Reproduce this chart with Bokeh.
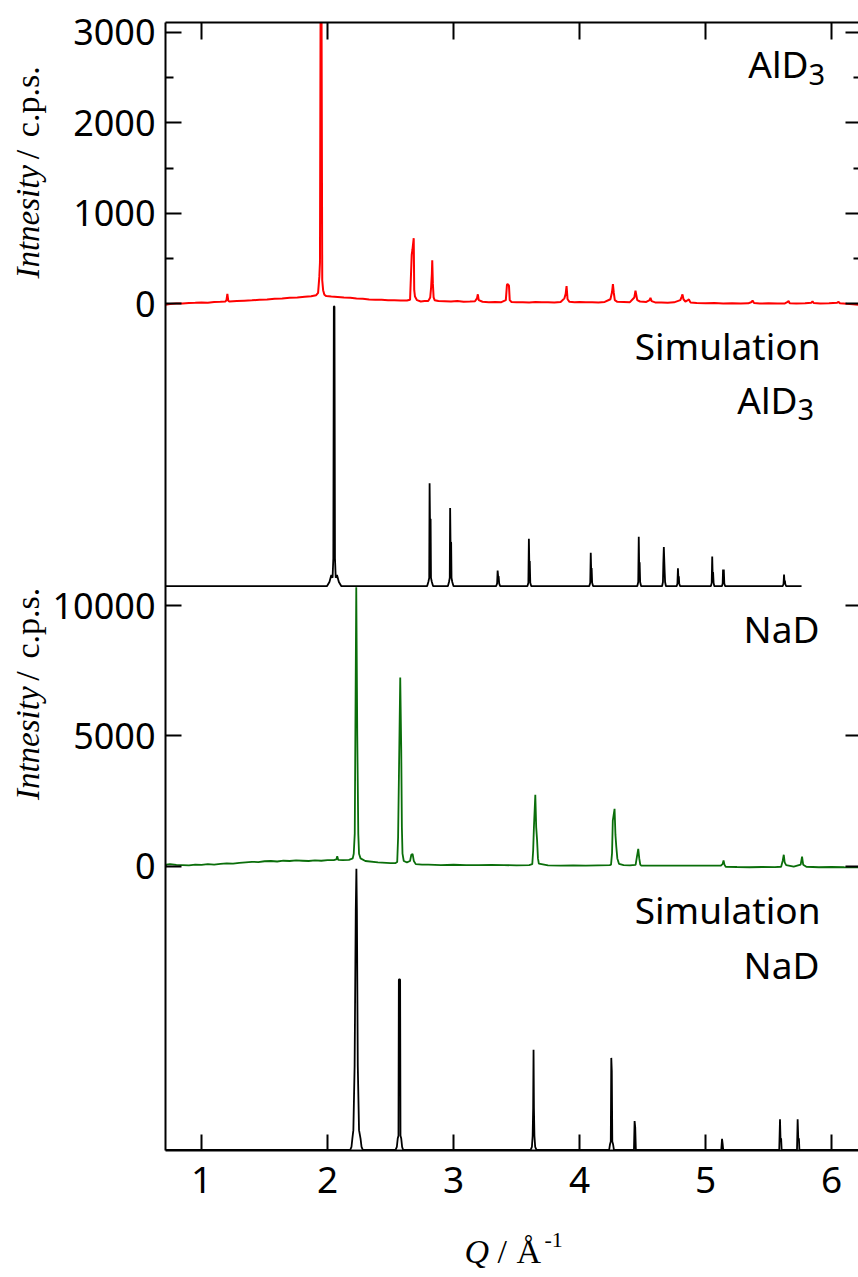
from bokeh.plotting import figure
from bokeh.models import Range1d, LinearAxis, FixedTicker, Label
from bokeh.layouts import column, row
from bokeh.embed import file_html
from bokeh.resources import INLINE

# ---------------- data ----------------
q_ticks = [1, 2, 3, 4, 5, 6]
alh_exp_ticks = [0, 1000, 2000, 3000]
alh_exp_minor = [500, 1500, 2500]
nah_exp_ticks = [0, 5000, 10000]

# AlD3 measured pattern (Q [1/A], intensity [c.p.s.])
alh_exp = [
    (0.714, -10), (0.75, -2), (0.80, 4), (0.85, 2), (0.90, 8), (0.95, 10), (1.00, 14), (1.05, 12),
    (1.10, 20), (1.15, 22), (1.19, 26), (1.198, 40), (1.205, 110), (1.212, 35), (1.22, 26), (1.28, 30),
    (1.34, 34), (1.40, 38), (1.46, 44), (1.52, 47), (1.58, 55), (1.64, 58), (1.70, 66), (1.76, 70),
    (1.82, 78), (1.87, 84), (1.91, 95), (1.925, 120), (1.935, 300), (1.940, 460), (1.945, 3400),
    (1.952, 3400), (1.958, 260), (1.965, 150), (1.975, 100), (1.99, 85), (2.03, 80), (2.08, 76),
    (2.13, 70), (2.18, 66), (2.23, 58), (2.28, 55), (2.33, 48), (2.38, 45), (2.43, 44), (2.48, 40),
    (2.53, 38), (2.58, 36), (2.63, 37), (2.655, 45), (2.668, 540), (2.674, 600), (2.684, 725),
    (2.688, 150), (2.694, 80), (2.71, 40), (2.74, 25), (2.77, 30), (2.80, 32), (2.815, 70),
    (2.822, 180), (2.828, 330), (2.831, 480), (2.836, 220), (2.842, 70), (2.85, 40), (2.88, 30),
    (2.93, 28), (2.98, 25), (3.03, 30), (3.08, 22), (3.13, 25), (3.17, 28), (3.186, 60), (3.193, 105),
    (3.20, 40), (3.23, 22), (3.28, 18), (3.33, 20), (3.38, 18), (3.415, 40), (3.424, 210), (3.430, 218),
    (3.440, 200), (3.446, 40), (3.46, 20), (3.50, 16), (3.55, 18), (3.60, 14), (3.65, 20), (3.70, 16),
    (3.75, 18), (3.80, 15), (3.85, 20), (3.88, 60), (3.890, 110), (3.897, 195), (3.905, 50), (3.92, 22),
    (3.96, 18), (4.00, 20), (4.05, 16), (4.10, 18), (4.15, 15), (4.20, 20), (4.245, 50), (4.258, 130),
    (4.265, 218), (4.272, 120), (4.28, 40), (4.30, 22), (4.35, 20), (4.40, 18), (4.435, 70), (4.444, 145),
    (4.450, 100), (4.458, 40), (4.48, 25), (4.53, 20), (4.556, 40), (4.563, 66), (4.572, 30), (4.60, 15),
    (4.65, 14), (4.70, 12), (4.75, 16), (4.80, 40), (4.811, 80), (4.817, 103), (4.825, 50), (4.84, 25),
    (4.86, 40), (4.868, 48), (4.88, 15), (4.93, 8), (5.00, 5), (5.07, 8), (5.14, 4), (5.21, 6), (5.28, 3),
    (5.34, 5), (5.365, 20), (5.373, 36), (5.385, 8), (5.43, 3), (5.50, 5), (5.57, 2), (5.63, 4),
    (5.652, 20), (5.659, 30), (5.668, 6), (5.72, 3), (5.79, 5), (5.84, 12), (5.849, 28), (5.858, 8),
    (5.91, 4), (5.98, 6), (6.045, 12), (6.056, 22), (6.066, 6), (6.12, 0), (6.17, -5), (6.214, -10),
]

# AlD3 simulated pattern (relative intensity)
alh_sim = [
    (0.714, 0), (1.995, 0), (2.015, 1.5), (2.030, 4), (2.040, 3), (2.046, 10), (2.050, 100), (2.055, 100),
    (2.059, 10), (2.065, 3), (2.075, 4), (2.090, 1.5), (2.110, 0),
    (2.790, 0), (2.800, 1.5), (2.807, 3), (2.810, 36.8), (2.813, 24), (2.818, 24), (2.821, 3), (2.828, 1.5), (2.838, 0),
    (2.955, 0), (2.964, 1.5), (2.970, 3), (2.973, 28), (2.976, 15.7), (2.981, 15.7), (2.984, 3), (2.990, 1.5), (3.000, 0),
    (3.338, 0), (3.346, 1.0), (3.350, 5.6), (3.354, 3.5), (3.358, 3.5), (3.362, 1), (3.370, 0),
    (3.586, 0), (3.594, 1.2), (3.598, 17), (3.601, 9), (3.605, 9), (3.609, 1.2), (3.617, 0),
    (4.077, 0), (4.085, 1.2), (4.089, 12), (4.092, 6.5), (4.096, 6.5), (4.100, 1.2), (4.108, 0),
    (4.458, 0), (4.466, 1.5), (4.470, 17.7), (4.473, 8.5), (4.477, 8.5), (4.481, 1.5), (4.489, 0),
    (4.655, 0), (4.662, 1.5), (4.665, 8), (4.669, 14), (4.672, 10), (4.675, 6), (4.679, 1.5), (4.686, 0),
    (4.771, 0), (4.777, 1), (4.781, 6.4), (4.784, 3.5), (4.788, 3.5), (4.791, 1), (4.798, 0),
    (5.042, 0), (5.049, 1.2), (5.053, 10.6), (5.056, 5), (5.060, 5), (5.064, 1.2), (5.070, 0),
    (5.130, 0), (5.136, 1), (5.139, 6), (5.142, 3), (5.145, 6), (5.149, 1), (5.156, 0),
    (5.612, 0), (5.619, 0.8), (5.623, 4.2), (5.626, 2), (5.630, 2), (5.633, 0.8), (5.640, 0),
    (5.762, 0),
]

# NaD measured pattern (Q [1/A], intensity [c.p.s.])
nah_exp = [
    (0.714, -30), (0.72, 60), (0.75, 80), (0.80, 50), (0.85, 40), (0.90, 30), (0.95, 60), (1.00, 50),
    (1.05, 80), (1.10, 60), (1.15, 90), (1.20, 110), (1.25, 100), (1.30, 130), (1.35, 150), (1.40, 170),
    (1.45, 160), (1.50, 190), (1.55, 200), (1.60, 180), (1.65, 210), (1.70, 200), (1.75, 220), (1.80, 210),
    (1.85, 200), (1.90, 220), (1.95, 210), (2.00, 230), (2.05, 230), (2.07, 260), (2.077, 380),
    (2.085, 240), (2.12, 230), (2.17, 240), (2.200, 300), (2.208, 480), (2.216, 1250), (2.228, 10700),
    (2.236, 5000), (2.244, 1250), (2.250, 480), (2.262, 300), (2.30, 200), (2.40, 150), (2.50, 120),
    (2.54, 120), (2.553, 160), (2.560, 1100), (2.577, 7240), (2.585, 4450), (2.590, 1500), (2.595, 480),
    (2.605, 200), (2.63, 150), (2.655, 200), (2.665, 440), (2.675, 470), (2.685, 200), (2.70, 80),
    (2.75, 60), (2.80, 60), (2.90, 40), (3.00, 55), (3.10, 45), (3.20, 40), (3.30, 50), (3.40, 40),
    (3.50, 35), (3.60, 45), (3.625, 80), (3.632, 600), (3.638, 1500), (3.649, 2740), (3.656, 1500),
    (3.663, 1000), (3.670, 300), (3.677, 100), (3.75, 30), (3.85, 20), (3.95, 30), (4.05, 20), (4.15, 30),
    (4.24, 40), (4.250, 60), (4.258, 500), (4.264, 1750), (4.278, 2200), (4.285, 1200), (4.292, 730),
    (4.300, 300), (4.313, 90), (4.35, 40), (4.40, 30), (4.445, 50), (4.455, 350), (4.466, 666),
    (4.474, 300), (4.482, 60), (4.49, 20), (5.12, 20), (5.135, 80), (5.143, 218), (5.150, 60),
    (5.16, -20), (5.25, -30), (5.35, -40), (5.45, -30), (5.55, -35), (5.60, -20), (5.612, 200),
    (5.621, 440), (5.628, 150), (5.640, 40), (5.70, -20), (5.755, 60), (5.766, 370), (5.775, 60),
    (5.80, -20), (5.90, -40), (6.00, -30), (6.10, -40), (6.214, -45),
]

# NaD simulated pattern (relative intensity)
nah_sim = [
    (0.714, 0), (2.180, 0), (2.190, 1), (2.197, 4), (2.205, 7), (2.215, 30), (2.224, 85), (2.229, 100),
    (2.233, 85), (2.240, 30), (2.250, 7), (2.262, 4), (2.270, 1), (2.280, 0),
    (2.540, 0), (2.550, 1), (2.557, 4), (2.563, 5), (2.566, 60.6), (2.576, 60.6), (2.579, 5), (2.585, 4),
    (2.592, 1), (2.600, 0),
    (3.612, 0), (3.622, 1), (3.628, 5), (3.632, 15), (3.635, 35.6), (3.638, 15), (3.642, 5), (3.648, 1), (3.658, 0),
    (4.235, 0), (4.242, 2), (4.248, 3), (4.252, 32.7), (4.256, 28), (4.260, 3), (4.266, 2), (4.273, 0),
    (4.432, 0), (4.437, 10.2), (4.442, 8), (4.447, 0),
    (5.125, 0), (5.131, 3.9), (5.136, 2), (5.140, 0),
    (5.585, 0), (5.591, 10.9), (5.595, 4), (5.600, 4), (5.604, 0),
    (5.726, 0), (5.731, 10.9), (5.736, 4), (5.741, 4), (5.745, 0),
    (6.214, 0),
]

# ---------------- layout ----------------
PAGE_W, PAGE_H = 858, 1277
STRIP_W = 47            # left strip holding the rotated y titles
MAIN_H = 1220           # main figure height (frame 22..1150 + tick labels)
FRAME_LEFT, FRAME_TOP, FRAME_BOTTOM = 165, 22, 1150

Q_MIN, Q_MAX = 0.714, 6.214
limits = {
    "alh_exp": (-8, 3110),
    "alh_sim": (-0.1, 100.7),
    "nah_exp": (-88, 10730),
    "nah_sim": (-0.25, 100.1),
}
order = ["nah_sim", "nah_exp", "alh_sim", "alh_exp"]  # bottom -> top
N = len(order)


def bare_fig(w, h, xr, yr):
    f = figure(width=w, height=h, x_range=xr, y_range=yr, output_backend="svg",
               toolbar_location=None, x_axis_location=None, y_axis_location=None,
               min_border_left=0, min_border_right=0, min_border_top=0, min_border_bottom=0)
    f.outline_line_color = None
    f.grid.visible = False
    f.background_fill_color = "white"
    f.border_fill_color = "white"
    return f


p = figure(width=PAGE_W - STRIP_W, height=MAIN_H, x_range=Range1d(Q_MIN, Q_MAX), y_range=Range1d(0, N),
           output_backend="svg", toolbar_location=None,
           x_axis_location=None, y_axis_location=None,
           min_border_left=FRAME_LEFT - STRIP_W, min_border_right=0,
           min_border_top=FRAME_TOP, min_border_bottom=MAIN_H - FRAME_BOTTOM)
p.outline_line_color = None
p.grid.visible = False
p.background_fill_color = "white"
p.border_fill_color = "white"

extra = {}
for j, name in enumerate(order):
    lo, hi = limits[name]
    span = hi - lo
    extra[name] = Range1d(lo - j * span, hi + (N - 1 - j) * span)
p.extra_y_ranges = extra


def pos(name, v):
    j = order.index(name)
    lo, hi = limits[name]
    return round(j + (v - lo) / (hi - lo), 6)


major = [pos("alh_exp", t) for t in alh_exp_ticks] + [pos("nah_exp", t) for t in nah_exp_ticks]
minor = [pos("alh_exp", t) for t in alh_exp_minor]
overrides = {}
for t in alh_exp_ticks:
    overrides[pos("alh_exp", t)] = str(t)
for t in nah_exp_ticks:
    overrides[pos("nah_exp", t)] = str(t)

TICK_FONT = "Noto Sans"
TICK_SIZE = "36px"

left = LinearAxis(ticker=FixedTicker(ticks=major, minor_ticks=minor), major_label_overrides=overrides,
                  axis_line_width=2, axis_line_color="black",
                  major_tick_in=16, major_tick_out=0, minor_tick_in=8, minor_tick_out=0,
                  major_tick_line_width=2, minor_tick_line_width=2,
                  major_label_standoff=10, major_label_text_font=TICK_FONT,
                  major_label_text_font_size=TICK_SIZE, major_label_text_color="black")
p.add_layout(left, "left")

right = LinearAxis(ticker=FixedTicker(ticks=major, minor_ticks=minor), axis_line_color=None,
                   major_tick_in=13, major_tick_out=0, minor_tick_in=5, minor_tick_out=0,
                   major_tick_line_width=2, minor_tick_line_width=2,
                   major_label_text_font_size="0px", major_label_text_color=None, major_label_standoff=0)
p.add_layout(right, "right")

top = LinearAxis(ticker=FixedTicker(ticks=q_ticks, minor_ticks=[]), axis_line_width=2,
                 major_tick_in=17, major_tick_out=0, major_tick_line_width=2,
                 major_label_text_font_size="0px", major_label_text_color=None, major_label_standoff=0)
p.add_layout(top, "above")

bottom = LinearAxis(ticker=FixedTicker(ticks=q_ticks, minor_ticks=[]), axis_line_width=2,
                    major_tick_in=16, major_tick_out=0, major_tick_line_width=2,
                    major_label_standoff=16, major_label_text_font=TICK_FONT,
                    major_label_text_font_size="37px", major_label_text_color="black")
p.add_layout(bottom, "below")

series = [
    (alh_exp, "alh_exp", "#ff0000", 2.0),
    (alh_sim, "alh_sim", "black", 1.8),
    (nah_exp, "nah_exp", "#0a6e0a", 1.8),
    (nah_sim, "nah_sim", "black", 1.8),
]
for pts, name, color, lw in series:
    xs = [a for a, b in pts]
    ys = [b for a, b in pts]
    p.line(xs, ys, y_range_name=name, line_color=color, line_width=lw)

# ---------------- in-panel texts (screen units relative to the frame; y = text centre) ----------------


def add_text(text, page_x, page_y, align="right", size="37px"):
    p.add_layout(Label(x=page_x - FRAME_LEFT, y=FRAME_BOTTOM - page_y, x_units="screen", y_units="screen",
                       text=text, text_align=align, text_baseline="middle",
                       text_font="Noto Sans", text_font_size=size, text_color="black"))


add_text("AlD", 808, 63)
add_text("3", 808, 74, align="left", size="29px")
add_text("Simulation", 820, 345)
add_text("AlD", 797, 399)
add_text("3", 797, 409, align="left", size="29px")
add_text("NaD", 819, 628)
add_text("Simulation", 820, 909)
add_text("NaD", 819, 964)

# ---------------- left strip: rotated y titles ----------------
pl = bare_fig(STRIP_W, MAIN_H, Range1d(0, STRIP_W), Range1d(0, MAIN_H))
for offset in (0, 564):
    pl.add_layout(Label(x=27, y=MAIN_H - (277 + offset), text="Intnesity", angle=90, angle_units="deg",
                        text_align="left", text_baseline="middle", text_font="Liberation Serif",
                        text_font_style="italic", text_font_size="33px", text_color="black"))
    pl.add_layout(Label(x=27, y=MAIN_H - (148 + offset), text="/", angle=90, angle_units="deg",
                        text_align="left", text_baseline="middle", text_font="Liberation Serif",
                        text_font_size="34px", text_color="black"))
    pl.add_layout(Label(x=27, y=MAIN_H - (124 + offset), text="c.p.s.", angle=90, angle_units="deg",
                        text_align="left", text_baseline="middle", text_font="Liberation Serif",
                        text_font_size="34px", text_color="black"))

# ---------------- bottom strip: x title ----------------
BOT_H = PAGE_H - MAIN_H
pb = bare_fig(PAGE_W, BOT_H, Range1d(0, PAGE_W), Range1d(0, BOT_H))


def add_bottom(text, page_x, page_y, size="34px", style="normal"):
    pb.add_layout(Label(x=page_x, y=PAGE_H - page_y, text=text, text_align="left", text_baseline="middle",
                        text_font="Liberation Serif", text_font_style=style, text_font_size=size,
                        text_color="black"))


add_bottom("Q", 464, 1251, style="italic")
add_bottom("/", 497, 1251)
add_bottom("Å", 516, 1251)
add_bottom("-1", 544, 1239, size="22px")

layout = column(row(pl, p), pb)
open("out.html", "w").write(file_html(layout, INLINE))
